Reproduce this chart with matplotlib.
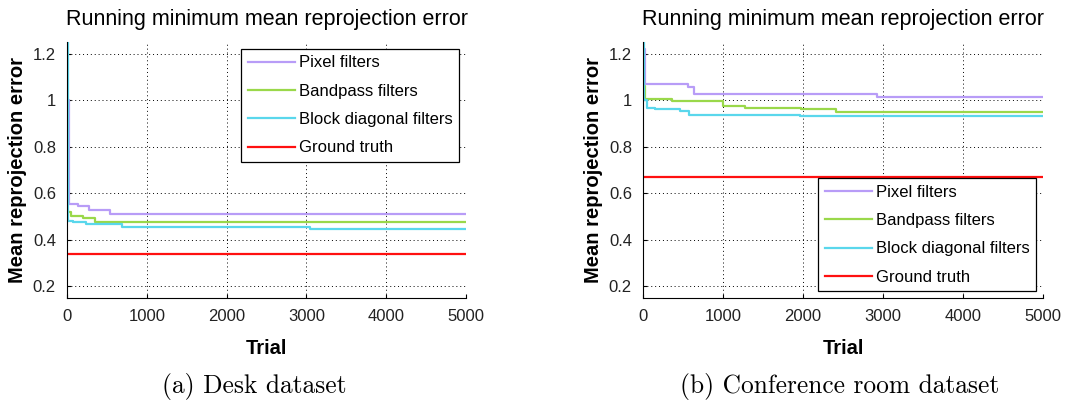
import matplotlib
matplotlib.use('Agg')
import matplotlib.pyplot as plt

plt.rcParams['font.family'] = ['Liberation Sans', 'DejaVu Sans']

# running minimum of the mean reprojection error, stored as step points (trial, error)
desk_pixel_x = [1, 20, 134, 280, 535, 5000]
desk_pixel_y = [1.0, 0.554, 0.547, 0.528, 0.51, 0.51]
desk_band_x = [1, 10, 50, 197, 355, 5000]
desk_band_y = [0.53, 0.52, 0.504, 0.495, 0.478, 0.478]
desk_block_x = [1, 8, 70, 240, 690, 3050, 5000]
desk_block_y = [1.3, 0.483, 0.478, 0.468, 0.453, 0.448, 0.448]
desk_truth = 0.34

conf_pixel_x = [1, 30, 565, 634, 2925, 5000]
conf_pixel_y = [1.22, 1.07, 1.058, 1.028, 1.013, 1.013]
conf_band_x = [1, 20, 362, 1000, 1280, 1975, 2410, 5000]
conf_band_y = [1.06, 1.005, 0.998, 0.977, 0.967, 0.961, 0.948, 0.948]
conf_block_x = [1, 15, 50, 154, 458, 579, 1966, 5000]
conf_block_y = [1.3, 1.0, 0.968, 0.963, 0.954, 0.938, 0.932, 0.932]
conf_truth = 0.67

labels = ['Pixel filters', 'Bandpass filters', 'Block diagonal filters', 'Ground truth']
colors = ['#b89cf7', '#9ad84a', '#5ad7ec', '#ff1010']
x_ticks = [0, 1000, 2000, 3000, 4000, 5000]
y_ticks = [0.2, 0.4, 0.6, 0.8, 1.0, 1.2]
y_ticklabels = ['0.2', '0.4', '0.6', '0.8', '1', '1.2']

W, H = 1065, 405
fig = plt.figure(figsize=(W / 100, H / 100), dpi=100)


def panel(rect, series, truth, legend_loc, caption, cap_x):
    ax = fig.add_axes([rect[0] / W, 1 - rect[3] / H, (rect[2] - rect[0]) / W, (rect[3] - rect[1]) / H])
    for (xs, ys), lab, col in zip(series, labels[:3], colors[:3]):
        ax.plot(xs, ys, drawstyle='steps-post', color=col, lw=1.6, label=lab)
    ax.plot([0, 5000], [truth, truth], color=colors[3], lw=1.6, label=labels[3])
    ax.set_xlim(0, 5000)
    ax.set_ylim(0.15, 1.25)
    ax.set_xticks(x_ticks)
    ax.set_yticks(y_ticks)
    ax.set_yticklabels(y_ticklabels)
    ax.tick_params(direction='in', length=3, width=0.8, labelsize=12, pad=8, labelcolor='#222222')
    ax.grid(True, color='black', linestyle=(0, (1, 3)), linewidth=0.7)
    ax.spines['top'].set_visible(False)
    ax.spines['right'].set_visible(False)
    ax.set_title('Running minimum mean reprojection error', fontsize=15.5, pad=12)
    ax.set_xlabel('Trial', fontsize=14.5, fontweight='bold', labelpad=11)
    ax.set_ylabel('Mean reprojection error', fontsize=14.5, fontweight='bold', labelpad=4)
    leg = ax.legend(loc=legend_loc, fontsize=12, frameon=True, fancybox=False,
                    edgecolor='black', framealpha=1, borderaxespad=0.4,
                    handlelength=2.8, handletextpad=0.25, labelspacing=0.8)
    leg.get_frame().set_linewidth(0.9)
    fig.text(cap_x / W, 1 - 386 / H, caption, family='cmr10', fontsize=18.3,
             ha='center', va='center')
    return ax


panel((67, 42, 466, 298),
      [(desk_pixel_x, desk_pixel_y), (desk_band_x, desk_band_y), (desk_block_x, desk_block_y)],
      desk_truth, 'upper right', '(a) Desk dataset', 254)
panel((643, 42, 1043, 298),
      [(conf_pixel_x, conf_pixel_y), (conf_band_x, conf_band_y), (conf_block_x, conf_block_y)],
      conf_truth, 'lower right', '(b) Conference room dataset', 840)

fig.savefig('out.png', dpi=100)
